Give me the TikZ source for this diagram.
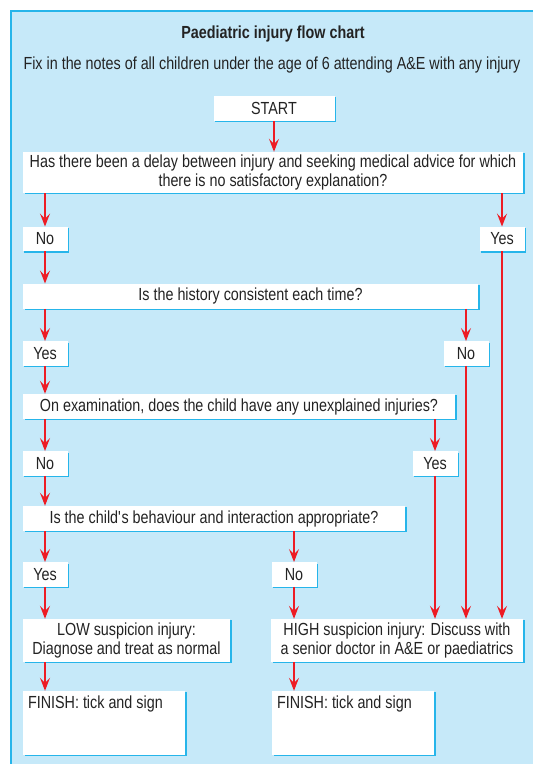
\documentclass[tikz,border=0pt]{standalone}
\usepackage{fontspec}
\setmainfont{Liberation Sans}[FakeStretch=0.82]
\usetikzlibrary{arrows.meta,shadows}

\definecolor{chartbg}{RGB}{198,233,249}
\definecolor{chartedge}{RGB}{38,181,234}
\definecolor{arrowred}{RGB}{237,28,36}
\definecolor{inktext}{RGB}{35,35,35}

\newcommand{\chartfont}{\fontsize{17.5}{18.7}\selectfont}

\tikzset{
  box/.style={fill=white, inner sep=0pt, text=inktext, align=center, font=\chartfont,
    drop shadow={shadow xshift=1.5pt, shadow yshift=-1.5pt, fill=chartedge, opacity=1}},
  ans/.style={box, minimum width=45pt, minimum height=24.5pt},
  question/.style={box, minimum height=25pt},
  finbox/.style={box, minimum width=162pt, minimum height=64pt},
  arr/.style={draw=arrowred, line width=1.6pt, -{Stealth[length=13pt, width=10pt, inset=5pt]}}
}

\begin{document}
\begin{tikzpicture}[x=1pt, y=1pt]
  \useasboundingbox (0,0) rectangle (533,764);
  \fill[chartbg] (11,0) rectangle (533,753);
  \draw[chartedge, line width=1.4pt] (11,0) -- (11,753) -- (533,753);

  \node[text=inktext, font=\chartfont\bfseries] (title) at (273,730) {Paediatric injury flow chart};
  \node[text=inktext, font=\chartfont] (intro) at (272,699) {Fix in the notes of all children under the age of 6 attending A\&E with any injury};

  \node[box, minimum width=121pt, minimum height=25pt] (start) at (274,655.5) {START};

  \node[box, minimum width=500pt, minimum height=41pt] (q1) at (273,591.5)
    {Has there been a delay between injury and seeking medical advice for which\\ there is no satisfactory explanation?};
  \node[ans] (no1) at (45,525) {No};
  \node[ans] (yes1) at (502,525) {Yes};

  \node[question, minimum width=455pt] (q2) at (250.5,467.75) {Is the history consistent each time?};
  \node[ans] (yes2) at (45,410.5) {Yes};
  \node[ans] (no2) at (466,410.5) {No};

  \node[question, minimum width=432pt] (q3) at (239,357.5) {On examination, does the child have any unexplained injuries?};
  \node[ans] (no3) at (45,300.5) {No};
  \node[ans] (yes3) at (435,300.5) {Yes};

  \node[question, minimum width=382pt] (q4) at (214,245.5) {Is the child\textquotesingle s behaviour and interaction appropriate?};
  \node[ans] (yes4) at (45,189.5) {Yes};
  \node[ans] (no4) at (294,189.5) {No};

  \node[box, minimum width=207pt, minimum height=43pt] (low) at (126.5,123.5)
    {LOW suspicion injury:\\ Diagnose and treat as normal};
  \node[box, minimum width=252pt, minimum height=43pt] (high) at (397,123.5)
    {HIGH suspicion injury: Discuss with\\ a senior doctor in A\&E or paediatrics};

  \node[finbox, label={[anchor=north west, inner sep=0pt, text=inktext, font=\chartfont, xshift=5pt, yshift=-5pt]north west:{FINISH: tick and sign}}] (fin1) at (104,41) {};
  \node[finbox, label={[anchor=north west, inner sep=0pt, text=inktext, font=\chartfont, xshift=5pt, yshift=-5pt]north west:{FINISH: tick and sign}}] (fin2) at (353,41) {};

  \draw[arr] (start) to (start |- q1.north);
  \draw[arr] (q1.south -| no1) to (no1);
  \draw[arr] (q1.south -| yes1) to (yes1);
  \draw[arr] (no1) to (q2.north -| no1);
  \draw[arr] (yes1) to (yes1 |- high.north);

  \draw[arr] (q2.south -| yes2) to (yes2);
  \draw[arr] (q2.south -| no2) to (no2);
  \draw[arr] (yes2) to (q3.north -| yes2);
  \draw[arr] (no2) to (no2 |- high.north);

  \draw[arr] (q3.south -| no3) to (no3);
  \draw[arr] (q3.south -| yes3) to (yes3);
  \draw[arr] (no3) to (q4.north -| no3);
  \draw[arr] (yes3) to (yes3 |- high.north);

  \draw[arr] (q4.south -| yes4) to (yes4);
  \draw[arr] (q4.south -| no4) to (no4);
  \draw[arr] (yes4) to (low.north -| yes4);
  \draw[arr] (no4) to (high.north -| no4);

  \draw[arr] (low.south -| yes4) to (fin1.north -| yes4);
  \draw[arr] (high.south -| no4) to (fin2.north -| no4);
\end{tikzpicture}
\end{document}
